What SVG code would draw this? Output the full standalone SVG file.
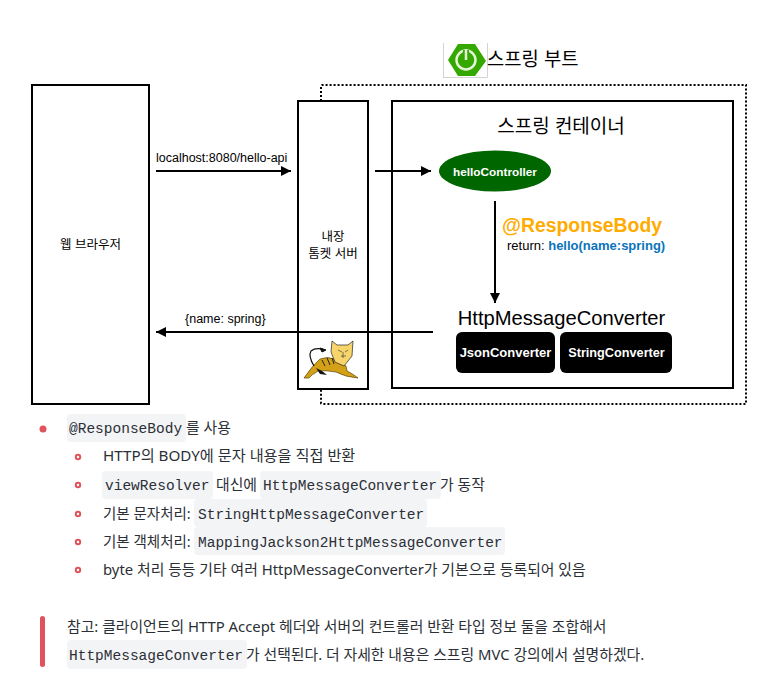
<svg xmlns="http://www.w3.org/2000/svg" width="782" height="682" viewBox="0 0 782 682">
<style>
text{font-family:"Liberation Sans","Noto Sans CJK KR",sans-serif;fill:#000}
.box{fill:#fff;stroke:#000;stroke-width:2}
.conn{fill:none;stroke:#000;stroke-width:2}
.c{text-anchor:middle}
.w{fill:#fff;font-weight:700;text-anchor:middle}
.s{font-size:12.500px}
.b{font-family:"Noto Sans","Noto Sans CJK KR",sans-serif;font-size:14.850px;fill:#2b2f36}
.m{font-family:"Liberation Mono","DejaVu Sans Mono",monospace;font-size:14.500px;fill:#2b2f36}
.chip{fill:#f3f4f6}
.dot{fill:#fff;stroke:#e0535c;stroke-width:2}
</style>
<defs><marker id="a" markerWidth="11" markerHeight="11" refX="10" refY="5" orient="auto" markerUnits="userSpaceOnUse"><path d="M0 0L10 5L0 10Z" fill="#000"/></marker></defs>
<rect width="782" height="682" fill="#fff"/>
<g id="spring-boot">
<path d="M321 101V86Q321 85 322 85H746V404H322Q321 404 321 403V390" fill="none" stroke="#000" stroke-width="2" stroke-dasharray="2 2"/>
<path d="M443.500 78V43M443.500 77.500H487.500V43" fill="none" stroke="#d4d4d4"/>
<path d="M458 44H475L486 61L475 76H458L448 60Z" fill="#35a800"/>
<circle cx="466" cy="60" r="9.500" fill="none" stroke="#e4f4d8" stroke-width="2.500"/>
<path d="M466 50V60" stroke="#35a800" stroke-width="6"/><path d="M466 49V60" stroke="#e4f4d8" stroke-width="2.500"/>
<text x="487" y="66" font-size="18.800">스프링 부트</text>
</g>
<g id="browser"><rect class="box" x="32" y="85" width="117" height="319"/><text class="c" x="90.500" y="249" font-size="12.500">웹 브라우저</text></g>
<g id="tomcat"><rect class="box" x="298" y="101" width="70" height="288"/>
<text class="c" x="333" y="241" font-size="12.500">내장</text><text class="c" x="333" y="258" font-size="12.500">톰켓 서버</text>
<path d="M304 378Q312 366 320 359Q328 356 334 359L346 366L347 371Q353 374 358 378Q345 377 336 372Q325 370 318 371Q311 375 309 378Z" fill="#d4a017" stroke="#5a4200" stroke-width=".7"/>
<path d="M314 366Q308 356 311 351Q316 347 325 350" fill="none" stroke="#111" stroke-width="1.200"/><path d="M320 348L326 350L322 352Z" fill="#111" stroke="#111"/>
<path d="M316 368L322 371L327 375L320 374Z" fill="#111"/>
<path d="M332 341L337 345H348L353 341L352 356L344 366L335 362L331 352Z" fill="#f8d56b" stroke="#222" stroke-width=".7"/>
<path d="M338 350L342 352M348 350L345 352M341 356H346M343 352V358" stroke="#444" stroke-width=".7" fill="none"/>
<path d="M322 360L325 366M327 358L330 365M332 358L334 364" stroke="#222" stroke-width="1" fill="none"/>
</g>
<g id="spring-container"><rect class="box" x="392" y="101" width="341" height="287"/><text class="c" x="561" y="133" font-size="19">스프링 컨테이너</text></g>
<g id="hello-controller"><ellipse cx="495" cy="171" rx="56" ry="20.500" fill="#006600"/><text class="w" font-size="11.800" x="495" y="175.500">helloController</text></g>
<g id="response-label"><text x="502" y="232" font-size="19.400" font-weight="700" style="fill:#ffab00">@ResponseBody</text>
<text x="507" y="250" font-size="13">return: <tspan font-weight="700" style="fill:#0b73bb">hello(name:spring)</tspan></text></g>
<g id="converter"><text class="c" x="561.500" y="325" font-size="20.200">HttpMessageConverter</text></g>
<g id="json-converter"><rect x="456" y="332" width="99" height="41" rx="6" fill="#000"/><text class="w" font-size="13" x="505.500" y="357">JsonConverter</text></g>
<g id="string-converter"><rect x="560" y="332" width="112" height="41" rx="6" fill="#000"/><text class="w" font-size="12.700" x="616.500" y="357">StringConverter</text></g>
<g id="connectors">
<path class="conn" d="M156 171H291" marker-end="url(#a)"/>
<path class="conn" d="M375 171H431" marker-end="url(#a)"/>
<path class="conn" d="M495 201V303" marker-end="url(#a)"/>
<path class="conn" d="M433 332H156" marker-end="url(#a)"/>
<text x="156" y="162" class="s">localhost:8080/hello-api</text>
<text x="185" y="323" class="s">{name: spring}</text>
</g>
<g id="notes">
<circle cx="43" cy="429" r="3.500" fill="#e0535c"/>
<rect class="chip" x="67" y="414" width="119" height="28" rx="4"/>
<text class="m" x="69" y="433">@ResponseBody</text><text class="b" x="186" y="433">를 사용</text>
<circle class="dot" cx="78" cy="457" r="2.200"/><text class="b" x="103" y="461" font-size="15.200" style="font-size:15.200px">HTTP의 BODY에 문자 내용을 직접 반환</text>
<circle class="dot" cx="78" cy="485" r="2.200"/>
<rect class="chip" x="102" y="471" width="111" height="28" rx="4"/><rect class="chip" x="260" y="471" width="181" height="28" rx="4"/>
<text class="m" x="105" y="490">viewResolver</text><text class="b" x="216" y="490">대신에</text><text class="m" x="263" y="490">HttpMessageConverter</text><text class="b" x="440" y="490">가 동작</text>
<circle class="dot" cx="78" cy="514" r="2.200"/>
<rect class="chip" x="194" y="499" width="233" height="28" rx="4"/>
<text class="b" x="103" y="519" style="font-size:14.500px">기본 문자처리:</text><text class="m" x="198" y="519">StringHttpMessageConverter</text>
<circle class="dot" cx="78" cy="542" r="2.200"/>
<rect class="chip" x="194" y="527" width="311" height="28" rx="4"/>
<text class="b" x="103" y="547" style="font-size:14.500px">기본 객체처리:</text><text class="m" x="198" y="547">MappingJackson2HttpMessageConverter</text>
<circle class="dot" cx="78" cy="570" r="2.200"/><text class="b" x="103" y="575">byte 처리 등등 기타 여러 HttpMessageConverter가 기본으로 등록되어 있음</text>
<rect x="40" y="616" width="5" height="51" rx="2.500" fill="#e0535c"/>
<text class="b" x="67" y="632">참고: 클라이언트의 HTTP Accept 헤더와 서버의 컨트롤러 반환 타입 정보 둘을 조합해서</text>
<rect class="chip" x="67" y="640" width="180" height="29" rx="4"/>
<text class="m" x="69" y="660">HttpMessageConverter</text><text class="b" x="246" y="660">가 선택된다. 더 자세한 내용은 스프링 MVC 강의에서 설명하겠다.</text>
</g>
</svg>
